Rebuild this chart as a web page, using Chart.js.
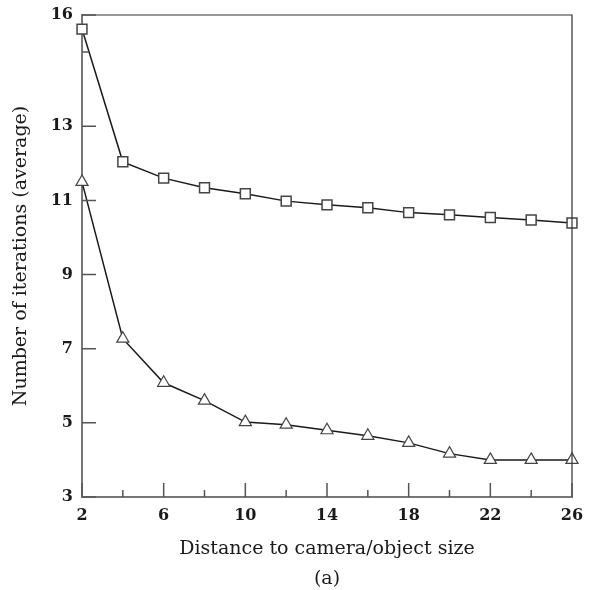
<!DOCTYPE html>
<html lang="en">
<head>
  <meta charset="UTF-8">
  <title>Iterations vs distance</title>
  <script src="https://cdn.jsdelivr.net/npm/chart.js"></script>
  <style>
    html, body { margin: 0; padding: 0; background: #fff; }
    .wrap { width: 593px; height: 590px; }
  </style>
</head>
<body>
  <div class="wrap"><canvas id="chart" width="593" height="590"></canvas></div>
  <script>
    // distance to camera / object size
    const distances = [2, 4, 6, 8, 10, 12, 14, 16, 18, 20, 22, 24, 26];
    // squares (upper curve)
    const squareIters = [15.62, 12.04, 11.6, 11.34, 11.18, 10.98, 10.88, 10.8, 10.67, 10.61, 10.54, 10.47, 10.39];
    // triangles (lower curve)
    const triangleIters = [11.5, 7.27, 6.08, 5.6, 5.02, 4.95, 4.8, 4.65, 4.46, 4.17, 4.0, 4.0, 4.0];

    const xMajorTicks = [2, 6, 10, 14, 18, 22, 26];
    const xMinorTicks = [4, 8, 12, 16, 20, 24];
    const yMajorTicks = [3, 5, 7, 9, 11, 13, 16];
    const yMinorTicks = [15];

    const fontFamily = "'DejaVu Serif', 'Liberation Serif', serif";
    const inkColor = '#1a1a1a';

    // ticks drawn inward plus the top and right frame lines
    const frameAndTicks = {
      id: 'frameAndTicks',
      afterDatasetsDraw(chart) {
        const { ctx, chartArea: a, scales: { x, y } } = chart;
        ctx.save();
        ctx.strokeStyle = '#333';
        ctx.lineWidth = 1.2;
        ctx.beginPath();
        ctx.moveTo(a.left, a.top);
        ctx.lineTo(a.right, a.top);
        ctx.lineTo(a.right, a.bottom);
        ctx.stroke();

        ctx.strokeStyle = '#555';
        ctx.lineWidth = 1.5;
        ctx.beginPath();
        xMajorTicks.forEach(v => {
          const px = x.getPixelForValue(v);
          ctx.moveTo(px, a.bottom);
          ctx.lineTo(px, a.bottom - 14);
        });
        xMinorTicks.forEach(v => {
          const px = x.getPixelForValue(v);
          ctx.moveTo(px, a.bottom);
          ctx.lineTo(px, a.bottom - 7);
        });
        yMajorTicks.forEach(v => {
          const py = y.getPixelForValue(v);
          ctx.moveTo(a.left, py);
          ctx.lineTo(a.left + 14, py);
        });
        yMinorTicks.forEach(v => {
          const py = y.getPixelForValue(v);
          ctx.moveTo(a.left, py);
          ctx.lineTo(a.left + 7, py);
        });
        ctx.stroke();
        ctx.restore();
      }
    };

    new Chart(document.getElementById('chart'), {
      type: 'line',
      data: {
        labels: distances,
        datasets: [
          {
            label: 'squares',
            data: distances.map((d, i) => ({ x: d, y: squareIters[i] })),
            borderColor: inkColor,
            borderWidth: 1.5,
            pointStyle: 'rect',
            pointRadius: 7,
            pointBackgroundColor: '#fff',
            pointBorderColor: '#444',
            pointBorderWidth: 1.5,
            tension: 0,
            clip: false
          },
          {
            label: 'triangles',
            data: distances.map((d, i) => ({ x: d, y: triangleIters[i] })),
            borderColor: inkColor,
            borderWidth: 1.5,
            pointStyle: 'triangle',
            pointRadius: 7,
            pointBackgroundColor: '#fff',
            pointBorderColor: '#444',
            pointBorderWidth: 1.2,
            tension: 0,
            clip: false
          }
        ]
      },
      options: {
        responsive: false,
        animation: false,
        events: [],
        layout: { padding: { left: 0, right: 21, top: 15, bottom: 0 } },
        plugins: {
          legend: { display: false },
          tooltip: { enabled: false }
        },
        scales: {
          x: {
            type: 'linear',
            min: 2,
            max: 26,
            afterBuildTicks: scale => { scale.ticks = xMajorTicks.map(v => ({ value: v })); },
            afterFit: scale => { scale.height = 93; scale.paddingLeft = 0; scale.paddingRight = 0; },
            grid: { display: false, drawTicks: false },
            border: { display: true, color: '#777', width: 2 },
            ticks: {
              padding: 9,
              color: inkColor,
              font: { family: fontFamily, size: 16, weight: 'bold' },
              maxRotation: 0
            },
            title: {
              display: true,
              text: ['Distance to camera/object size', '(a)'],
              color: inkColor,
              font: { family: fontFamily, size: 19, lineHeight: 1.58 },
              padding: { top: 13, bottom: -4 }
            }
          },
          y: {
            type: 'linear',
            min: 3,
            max: 16,
            afterBuildTicks: scale => { scale.ticks = yMajorTicks.map(v => ({ value: v })); },
            afterFit: scale => { scale.width = 82; scale.paddingTop = 0; scale.paddingBottom = 0; },
            grid: { display: false, drawTicks: false },
            border: { display: true, color: '#777', width: 2 },
            ticks: {
              padding: 9,
              color: inkColor,
              font: { family: fontFamily, size: 16, weight: 'bold' }
            },
            title: {
              display: true,
              text: 'Number of iterations (average)',
              color: inkColor,
              font: { family: fontFamily, size: 19 },
              padding: { top: 10, bottom: 0 }
            }
          }
        }
      },
      plugins: [frameAndTicks]
    });
  </script>
</body>
</html>
